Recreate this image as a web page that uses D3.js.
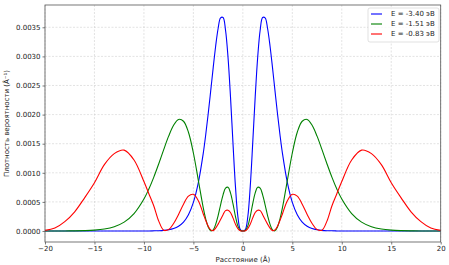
<!DOCTYPE html>
<html>
<head>
<meta charset="utf-8">
<script src="https://cdn.jsdelivr.net/npm/d3@7"></script>
<style>
  body { margin: 0; background: #fff; }
  svg { display: block; font-family: "DejaVu Sans", sans-serif; }
</style>
</head>
<body>
<div id="chart"></div>
<script>
// Distance grid (Å), shared by all three curves
const distance = [-20, -19, -18, -17, -16, -15, -14, -13, -12, -11, -10, -9.5, -9, -8.5, -8, -7.5, -7, -6.5, -6, -5.5, -5, -4.5,
  -4, -3.75, -3.5, -3.25, -3, -2.75, -2.5, -2.25, -2, -1.75, -1.5, -1.25, -1, -0.75, -0.5, -0.25,
  0, 0.25, 0.5, 0.75, 1, 1.25, 1.5, 1.75, 2, 2.25, 2.5, 2.75, 3, 3.25, 3.5, 3.75, 4,
  4.5, 5, 5.5, 6, 6.5, 7, 7.5, 8, 8.5, 9, 9.5, 10, 11, 12, 13, 14, 15, 16, 17, 18, 19, 20];

// E = -3.40 eV
const blueValues = [0, 0, 0, 0, 0, 0, 0, 0, 0, 0, 0, 0.000001, 0.000003, 0.0000055, 0.000011, 0.000022, 0.000043, 0.000083, 0.000154, 0.000281, 0.000493, 0.000832,
  0.001338, 0.001658, 0.002018, 0.002407, 0.002803, 0.003175, 0.003479, 0.003663, 0.003668, 0.003449, 0.002985, 0.002309, 0.001518, 0.000771, 0.000244, 0.0000245,
  0, 0.0000245, 0.000244, 0.000771, 0.001518, 0.002309, 0.002985, 0.003449, 0.003668, 0.003663, 0.003479, 0.003175, 0.002803, 0.002407, 0.002018, 0.001658, 0.001338,
  0.000832, 0.000493, 0.000281, 0.000154, 0.000083, 0.000043, 0.000022, 0.000011, 0.0000055, 0.000003, 0.000001, 0, 0, 0, 0, 0, 0, 0, 0, 0, 0, 0];

// E = -1.51 eV
const greenValues = [0.0000002, 0.0000005, 0.0000012, 0.0000028, 0.0000066, 0.000015, 0.000034, 0.000074, 0.000153, 0.0003, 0.00055, 0.000722, 0.000926, 0.001156, 0.001399, 0.00163, 0.001816, 0.001917, 0.001886, 0.001696, 0.00134, 0.000871,
  0.000396, 0.000204, 0.0000679, 0.0000038, 0.0000196, 0.000113, 0.000266, 0.00045, 0.000622, 0.000735, 0.000751, 0.000656, 0.00047, 0.000253, 0.000083, 0.0000085,
  0, 0.0000085, 0.000083, 0.000253, 0.00047, 0.000656, 0.000751, 0.000735, 0.000622, 0.00045, 0.000266, 0.000113, 0.0000196, 0.0000038, 0.0000679, 0.000204, 0.000396,
  0.000871, 0.00134, 0.001696, 0.001886, 0.001917, 0.001816, 0.00163, 0.001399, 0.001156, 0.000926, 0.000722, 0.00055, 0.0003, 0.000153, 0.000074, 0.000034, 0.000015, 0.0000066, 0.0000028, 0.0000012, 0.0000005, 0.0000002];

// E = -0.83 eV
const redValues = [0.00001, 0.00005, 0.00016, 0.00033, 0.00057, 0.00083, 0.00114, 0.00133, 0.00139, 0.00122, 0.00085, 0.00064, 0.00043, 0.00017, 0.000014, 0.000025, 0.00013, 0.000285, 0.00046, 0.0006, 0.00063, 0.00052,
  0.000293, 0.00018, 0.000081, 0.000019, 0.000006, 0.000048, 0.000118, 0.000198, 0.00028, 0.00035, 0.000356, 0.000318, 0.000225, 0.000118, 0.000041, 0.000004,
  0, 0.000004, 0.000041, 0.000118, 0.000225, 0.000318, 0.000356, 0.00035, 0.00028, 0.000198, 0.000118, 0.000048, 0.000006, 0.000019, 0.000081, 0.00018, 0.000293,
  0.00052, 0.00063, 0.0006, 0.00046, 0.000285, 0.00013, 0.000025, 0.000014, 0.00017, 0.00043, 0.00064, 0.00085, 0.00122, 0.00139, 0.00133, 0.00114, 0.00083, 0.00057, 0.00033, 0.00016, 0.00005, 0.00001];

const seriesLabels = ["E = -3.40 эВ", "E = -1.51 эВ", "E = -0.83 эВ"];
const seriesColors = ["blue", "green", "red"];
const xTicks = [-20, -15, -10, -5, 0, 5, 10, 15, 20];
const yTicks = [0, 0.0005, 0.001, 0.0015, 0.002, 0.0025, 0.003, 0.0035];

const series = [blueValues, greenValues, redValues].map((values, i) => ({
  label: seriesLabels[i],
  color: seriesColors[i],
  points: distance.map((d, j) => [d, values[j]])
}));

const width = 449, height = 265;
const plot = {left: 45, right: 440.7, top: 5, bottom: 242};

const svg = d3.select("#chart").append("svg")
  .attr("width", width)
  .attr("height", height)
  .attr("viewBox", [0, 0, width, height]);

const x = d3.scaleLinear([-20, 20], [plot.left, plot.right]);
const y = d3.scaleLinear([-0.000189, 0.003883], [plot.bottom, plot.top]);

// grid
svg.append("g")
  .attr("stroke", "#d0d0d0")
  .attr("stroke-width", 0.6)
  .attr("stroke-dasharray", "2,1.5")
  .call(g => g.selectAll(".vx").data(xTicks).join("line")
    .attr("x1", d => x(d)).attr("x2", d => x(d))
    .attr("y1", plot.top).attr("y2", plot.bottom))
  .call(g => g.selectAll(".hy").data(yTicks).join("line")
    .attr("x1", plot.left).attr("x2", plot.right)
    .attr("y1", d => y(d)).attr("y2", d => y(d)));

// curves
const line = d3.line()
  .x(d => x(d[0]))
  .y(d => Math.min(y(d[1]), y(0)))
  .curve(d3.curveCatmullRom.alpha(0.5));

svg.append("g")
  .attr("fill", "none")
  .attr("stroke-width", 1.1)
  .selectAll("path")
  .data(series)
  .join("path")
  .attr("stroke", d => d.color)
  .attr("d", d => line(d.points));

// axes
const xAxis = svg.append("g")
  .attr("transform", `translate(0,${plot.bottom})`)
  .call(d3.axisBottom(x).tickValues(xTicks).tickSize(2.5).tickPadding(2).tickFormat(d3.format("d")));

const yAxis = svg.append("g")
  .attr("transform", `translate(${plot.left},0)`)
  .call(d3.axisLeft(y).tickValues(yTicks).tickSize(2.5).tickPadding(2).tickFormat(d3.format(".4f")));

[xAxis, yAxis].forEach(ax => {
  ax.select(".domain").remove();
  ax.selectAll("line").attr("stroke", "#444").attr("stroke-width", 0.7);
  ax.selectAll("text").attr("font-size", 7).attr("fill", "#222").attr("font-family", "DejaVu Sans, sans-serif");
});

// frame
svg.append("rect")
  .attr("x", plot.left).attr("y", plot.top)
  .attr("width", plot.right - plot.left).attr("height", plot.bottom - plot.top)
  .attr("fill", "none").attr("stroke", "#555").attr("stroke-width", 0.8);

// labels
svg.append("text")
  .attr("x", (plot.left + plot.right) / 2).attr("y", 262)
  .attr("text-anchor", "middle").attr("font-size", 7).attr("fill", "#222")
  .text("Расстояние (Å)");

svg.append("text")
  .attr("transform", `translate(9,${(plot.top + plot.bottom) / 2}) rotate(-90)`)
  .attr("text-anchor", "middle").attr("font-size", 7).attr("fill", "#222")
  .text("Плотность вероятности (Å⁻¹)");

// legend
const legend = svg.append("g").attr("transform", "translate(368,8)");
legend.append("rect")
  .attr("width", 71).attr("height", 34).attr("rx", 2)
  .attr("fill", "white").attr("fill-opacity", 0.8)
  .attr("stroke", "#ccc").attr("stroke-width", 0.6);

const item = legend.selectAll("g.item")
  .data(series)
  .join("g")
  .attr("transform", (d, i) => `translate(0,${6 + i * 10})`);
item.append("line")
  .attr("x1", 3).attr("x2", 14)
  .attr("stroke", d => d.color).attr("stroke-width", 1.1);
item.append("text")
  .attr("x", 23).attr("dy", "0.35em")
  .attr("font-size", 7).attr("fill", "#222")
  .text(d => d.label);
</script>
</body>
</html>
